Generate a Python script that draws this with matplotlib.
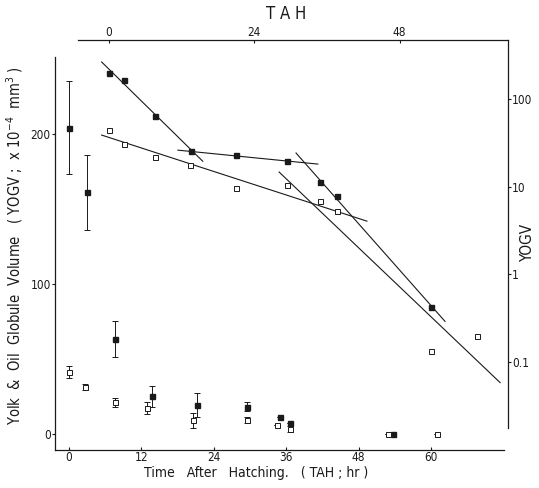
import numpy as np
import matplotlib
matplotlib.use('Agg')
import matplotlib.pyplot as plt
from matplotlib.ticker import FixedLocator, FixedFormatter

plt.rcParams['font.family'] = ['DejaVu Sans']
plt.rcParams['font.stretch'] = 'condensed'

## lower series: yolk & oil globule volume, bottom/left axes (TAH)
low_fill_x = [0, 3, 7.6, 13.7, 21.2, 29.5, 35, 36.6, 53.7]
low_fill_y = [204, 161, 63, 25, 19, 18, 11, 7, 0]
low_fill_err = [31, 25, 12, 7, 8, 3, 0, 0, 0]

low_open_x = [0, 2.7, 7.6, 12.9, 20.5, 29.5, 34.5, 36.6, 52.9, 61]
low_open_y = [41, 31, 21, 17, 9, 9, 6, 3, 0, 0]
low_open_err = [4, 2, 3, 4, 5, 2, 0, 2, 0, 0]

## upper series: YOGV on log scale, top/right axes
up_fill_x = [0, 2.5, 7.6, 13.6, 21.0, 29.4, 34.9, 37.7, 53.2]
up_fill_y = [198, 165, 64, 25.5, 22.9, 19.5, 11.2, 7.8, 0.42]

up_open_x = [0, 2.5, 7.6, 13.4, 21.0, 29.4, 34.9, 37.7, 53.2, 60.8]
up_open_y = [44, 30.6, 21.7, 17.6, 9.6, 10.4, 6.8, 5.25, 0.132, 0.195]

## fitted regression segments (start / end)
fit_x0 = [-1.2, 11.4, 30.9, -1.2, 28.1]
fit_x1 = [15.5, 34.5, 55.5, 42.6, 64.6]
fit_y0 = [265, 26.1, 24.2, 38.8, 14.7]
fit_y1 = [19.5, 18.1, 0.29, 4.04, 0.058]

ink = '#1a1a1a'

fig = plt.figure(figsize=(5.39, 4.88), dpi=100)
ax1 = fig.add_axes([55/539, 38/488, 449/539, 393/488])
ax2 = fig.add_axes([78/539, 60/488, 430/539, 388/488])
ax2.patch.set_alpha(0)

# bottom-left axes
ax1.errorbar(low_fill_x, low_fill_y, yerr=low_fill_err, fmt='s', ms=3.6,
             color=ink, mfc=ink, mec=ink, ecolor=ink, elinewidth=0.7, capsize=2.5, capthick=0.7)
ax1.errorbar(low_open_x, low_open_y, yerr=low_open_err, fmt='s', ms=3.6,
             color=ink, mfc='white', mec=ink, mew=0.7, ecolor=ink, elinewidth=0.7,
             capsize=2, capthick=0.7)
ax1.set_xlim(-2.3, 72.1)
ax1.set_ylim(-10.7, 251)
ax1.set_xticks([0, 12, 24, 36, 48, 60])
ax1.set_yticks([0, 100, 200])
for s in ['top', 'right']:
    ax1.spines[s].set_visible(False)
for s in ['left', 'bottom']:
    ax1.spines[s].set_linewidth(0.9)
    ax1.spines[s].set_color(ink)
ax1.tick_params(axis='x', direction='in', length=2, width=0.8, labelsize=8.5, colors=ink, pad=1)
ax1.tick_params(axis='y', direction='out', length=2, width=0.8, labelsize=8.5, colors=ink, pad=1)

# top-right axes
for x0, x1, y0, y1 in zip(fit_x0, fit_x1, fit_y0, fit_y1):
    ax2.plot([x0, x1], [y0, y1], color=ink, lw=0.8)
ax2.plot(up_fill_x, up_fill_y, 's', ms=3.6, color=ink)
ax2.plot(up_open_x, up_open_y, 's', ms=3.6, mfc='white', mec=ink, mew=0.7)
ax2.set_yscale('log')
ax2.set_xlim(-5.1, 65.9)
ax2.set_ylim(0.0176, 472)
ax2.xaxis.tick_top()
ax2.yaxis.tick_right()
ax2.set_xticks([0, 24, 48])
ax2.yaxis.set_major_locator(FixedLocator([0.1, 1, 10, 100]))
ax2.yaxis.set_major_formatter(FixedFormatter(['0.1', '1', '10', '100']))
ax2.yaxis.set_minor_locator(FixedLocator([]))
for s in ['bottom', 'left']:
    ax2.spines[s].set_visible(False)
for s in ['top', 'right']:
    ax2.spines[s].set_linewidth(0.9)
    ax2.spines[s].set_color(ink)
ax2.tick_params(axis='x', direction='in', length=2, width=0.8, labelsize=8.5, colors=ink, pad=1)
ax2.tick_params(axis='y', direction='out', length=2, width=0.8, labelsize=8.5, colors=ink, pad=1)

fig.text(15/539, 1 - 246/488, 'Yolk  &  Oil  Globule  Volume   ( YOGV ;  x 10$^{-4}$  mm$^{3}$ )',
         rotation=90, ha='center', va='center', fontsize=10.5, color=ink)
fig.text(256/539, 1 - 473/488, 'Time   After   Hatching.   ( TAH ; hr )',
         ha='center', va='center', fontsize=10, color=ink)
fig.text(286/539, 1 - 14/488, 'T A H', ha='center', va='center', fontsize=12, color=ink)
fig.text(528/539, 1 - 243/488, 'YOGV', rotation=90, ha='center', va='center',
         fontsize=11, color=ink)

fig.savefig('out.png', dpi=100)
